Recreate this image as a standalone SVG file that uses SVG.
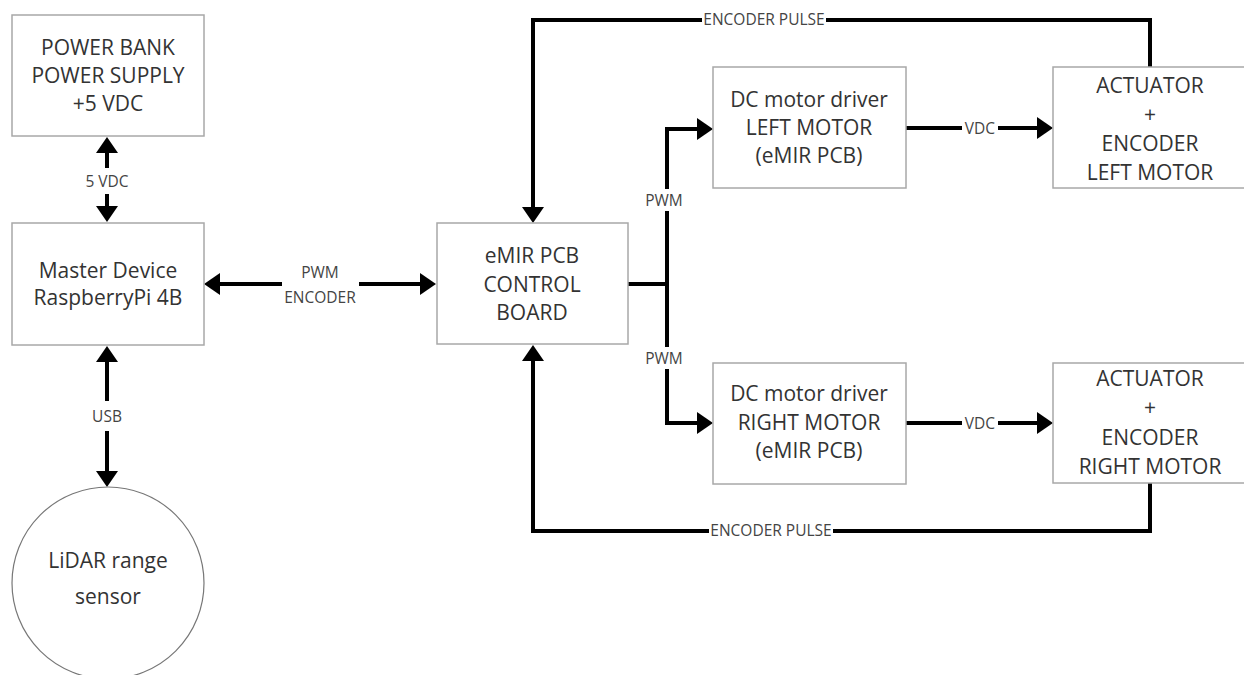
<svg xmlns="http://www.w3.org/2000/svg" width="1244" height="675" viewBox="0 0 1244 675">
  <defs>
    <marker id="ah" viewBox="0 0 16 22" refX="12" refY="11" markerWidth="16" markerHeight="22" markerUnits="userSpaceOnUse" orient="auto-start-reverse">
      <path d="M0,0 L16,11 L0,22 Z" fill="#000"/>
    </marker>
  </defs>
  <style>
    .box { fill: #fff; stroke: #a8a8a8; stroke-width: 1.5; }
    .circ { fill: #fff; stroke: #777; stroke-width: 1.2; }
    .t { font-family: "Open Sans", "Liberation Sans", sans-serif; font-size: 21px; fill: #333; text-anchor: middle; }
    .c { fill: none; stroke: #000; stroke-width: 4; }
    .bg { fill: #fff; }
    .lbl { font-family: "Open Sans", "Liberation Sans", sans-serif; font-size: 15.5px; fill: #444; text-anchor: middle; }
  </style>
  <rect width="1244" height="675" fill="#fff"/>

  <g id="connectors">
    <line class="c" x1="107" y1="141" x2="107" y2="218" marker-start="url(#ah)" marker-end="url(#ah)"/>
    <rect class="bg" x="80" y="168" width="54" height="26"/>
    <text class="lbl" x="107" y="187">5 VDC</text>
    <line class="c" x1="107" y1="350" x2="107" y2="483" marker-start="url(#ah)" marker-end="url(#ah)"/>
    <rect class="bg" x="88" y="401" width="38" height="30"/>
    <text class="lbl" x="107" y="422">USB</text>
    <line class="c" x1="208" y1="284" x2="282" y2="284" marker-start="url(#ah)"/>
    <line class="c" x1="359" y1="284" x2="432" y2="284" marker-end="url(#ah)"/>
    <text class="lbl" x="320" y="278">PWM</text>
    <text class="lbl" x="320" y="303">ENCODER</text>
    <path class="c" d="M628,284 H667"/>
    <path class="c" d="M667,284 V129 H709" marker-end="url(#ah)"/>
    <path class="c" d="M667,284 V423 H709" marker-end="url(#ah)"/>
    <rect class="bg" x="642" y="189" width="46" height="22"/>
    <text class="lbl" x="664" y="206">PWM</text>
    <rect class="bg" x="642" y="347" width="46" height="22"/>
    <text class="lbl" x="664" y="364">PWM</text>
    <line class="c" x1="906" y1="128" x2="1049" y2="128" marker-end="url(#ah)"/>
    <rect class="bg" x="962" y="118" width="36" height="20"/>
    <text class="lbl" x="980" y="134">VDC</text>
    <line class="c" x1="906" y1="423" x2="1049" y2="423" marker-end="url(#ah)"/>
    <rect class="bg" x="962" y="413" width="36" height="20"/>
    <text class="lbl" x="980" y="429">VDC</text>
    <path class="c" d="M1150,67 V20 H533 V219" marker-end="url(#ah)"/>
    <rect class="bg" x="702" y="10" width="124" height="20"/>
    <text class="lbl" x="764" y="25">ENCODER PULSE</text>
    <path class="c" d="M1150,483 V531 H533 V349" marker-end="url(#ah)"/>
    <rect class="bg" x="709" y="521" width="124" height="20"/>
    <text class="lbl" x="771" y="536">ENCODER PULSE</text>
  </g>

  <g id="power-bank">
    <rect class="box" x="12" y="15" width="192" height="121"/>
    <text class="t" x="108" y="55">POWER BANK</text>
    <text class="t" x="108" y="83">POWER SUPPLY</text>
    <text class="t" x="108" y="111">+5 VDC</text>
  </g>
  <g id="master-device">
    <rect class="box" x="12" y="223" width="192" height="122"/>
    <text class="t" x="108" y="278">Master Device</text>
    <text class="t" x="108" y="305">RaspberryPi 4B</text>
  </g>
  <g id="lidar">
    <circle class="circ" cx="108" cy="583" r="96"/>
    <text class="t" x="108" y="568">LiDAR range</text>
    <text class="t" x="108" y="604">sensor</text>
  </g>
  <g id="emir-control">
    <rect class="box" x="437" y="223" width="191" height="121"/>
    <text class="t" x="532" y="263">eMIR PCB</text>
    <text class="t" x="532" y="292">CONTROL</text>
    <text class="t" x="532" y="320">BOARD</text>
  </g>
  <g id="driver-left">
    <rect class="box" x="713" y="67" width="193" height="121"/>
    <text class="t" x="809" y="107">DC motor driver</text>
    <text class="t" x="809" y="135">LEFT MOTOR</text>
    <text class="t" x="809" y="163">(eMIR PCB)</text>
  </g>
  <g id="actuator-left">
    <rect class="box" x="1053" y="67" width="200" height="121"/>
    <text class="t" x="1150" y="93">ACTUATOR</text>
    <text class="t" x="1150" y="122">+</text>
    <text class="t" x="1150" y="151">ENCODER</text>
    <text class="t" x="1150" y="180">LEFT MOTOR</text>
  </g>
  <g id="driver-right">
    <rect class="box" x="713" y="363" width="193" height="121"/>
    <text class="t" x="809" y="401">DC motor driver</text>
    <text class="t" x="809" y="430">RIGHT MOTOR</text>
    <text class="t" x="809" y="458">(eMIR PCB)</text>
  </g>
  <g id="actuator-right">
    <rect class="box" x="1053" y="363" width="200" height="120"/>
    <text class="t" x="1150" y="386">ACTUATOR</text>
    <text class="t" x="1150" y="415">+</text>
    <text class="t" x="1150" y="445">ENCODER</text>
    <text class="t" x="1150" y="474">RIGHT MOTOR</text>
  </g>
</svg>
